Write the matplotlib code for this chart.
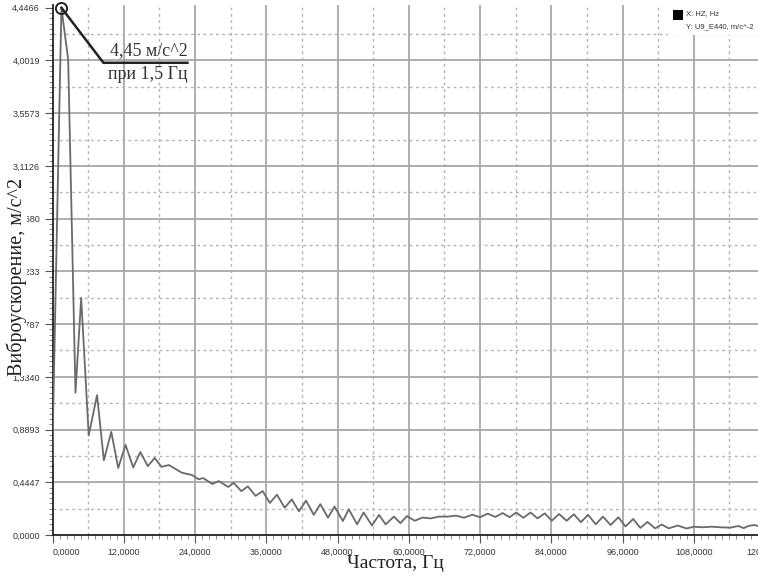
import numpy as np
from matplotlib import pyplot as plt
from matplotlib.ticker import FixedLocator, MultipleLocator
from matplotlib.patches import Rectangle

# spectrum: frequency, Hz / vibration acceleration, m/s^2
freq = [0, 0.12, 1.5, 2.64, 3.87, 4.83, 6.1, 7.5, 8.65, 9.9, 11.06, 12.3, 13.6, 14.8,
        16.05, 17.2, 18.35, 19.6, 21.8, 23.5, 24.6, 25.4, 26.9, 28.0, 29.6, 30.5, 31.8,
        32.9, 34.2, 35.4, 36.6, 37.8, 39.1, 40.3, 41.5, 42.7, 44.0, 45.1, 46.4, 47.5,
        48.9, 49.9, 51.3, 52.4, 53.8, 55.0, 56.1, 57.5, 58.6, 59.7, 61.0, 62.3, 63.7,
        65.1, 66.5, 68.0, 69.3, 70.7, 72.0, 73.3, 74.6, 75.8, 77.0, 78.1, 79.3, 80.5,
        81.7, 82.9, 84.1, 85.3, 86.6, 87.8, 89.0, 90.2, 91.5, 92.7, 94.0, 95.3, 96.5,
        97.8, 99.0, 100.2, 101.5, 102.6, 103.8, 105.3, 106.8, 108.0, 109.5, 111.0,
        112.5, 114.2, 115.5, 116.4, 117.2, 118.1, 119.5]
accel = [0.61, 1.05, 4.4466, 4.01, 1.20, 2.0, 0.84, 1.18, 0.63, 0.87, 0.565, 0.76, 0.57,
         0.70, 0.58, 0.65, 0.575, 0.59, 0.525, 0.506, 0.47, 0.48, 0.43, 0.455, 0.405,
         0.44, 0.37, 0.41, 0.33, 0.37, 0.27, 0.34, 0.23, 0.30, 0.20, 0.29, 0.17, 0.26,
         0.146, 0.24, 0.118, 0.217, 0.09, 0.19, 0.08, 0.17, 0.09, 0.155, 0.10, 0.16,
         0.12, 0.147, 0.14, 0.155, 0.155, 0.163, 0.146, 0.171, 0.15, 0.18, 0.152, 0.185,
         0.15, 0.19, 0.145, 0.19, 0.14, 0.183, 0.12, 0.177, 0.12, 0.175, 0.108, 0.17,
         0.09, 0.155, 0.084, 0.15, 0.072, 0.135, 0.06, 0.11, 0.056, 0.088, 0.056, 0.08,
         0.055, 0.07, 0.065, 0.07, 0.065, 0.062, 0.076, 0.058, 0.076, 0.084, 0.07]

x_ticks = [0, 12, 24, 36, 48, 60, 72, 84, 96, 108, 120]
x_labels = ['0,0000', '12,0000', '24,0000', '36,0000', '48,0000', '60,0000',
            '72,0000', '84,0000', '96,0000', '108,0000', '120,0000']
y_step = 0.44466
y_labels = ['0,0000', '0,4447', '0,8893', '1,3340', '1,7787', '2,2233',
            '2,6680', '3,1126', '3,5573', '4,0019', '4,4466']
peak_text = ['4,45 м/с^2', 'при 1,5 Гц']
legend_lines = ['X: HZ, Hz', 'Y: U9_E440, m/c^-2']

W, H = 758, 576
fig = plt.figure(figsize=(W / 100, H / 100), dpi=100)
ax = fig.add_axes([52.5 / W, 41 / H, 712.5 / W, 530 / H])
ax.set_xlim(0, 120)
ax.set_ylim(0, 4.47)

y_ticks = [y_step * i for i in range(len(y_labels))]

# grid: solid at major ticks, dotted half way between
for x in x_ticks[1:]:
    ax.axvline(x, color='#a8a8a8', lw=1.3, zorder=0)
for x in np.arange(6, 120, 12):
    ax.axvline(x, color='#b4b4b4', lw=1.0, ls=(0, (2, 2.5)), zorder=0)
for y in y_ticks[1:-1]:
    ax.axhline(y, color='#a8a8a8', lw=1.3, zorder=0)
for y in np.arange(y_step / 2, 4.47, y_step):
    ax.axhline(y, color='#b4b4b4', lw=1.0, ls=(0, (2, 2.5)), zorder=0)

ax.plot(freq, accel, color='#6a6a6a', lw=1.3, zorder=3)

for s in ['top', 'right']:
    ax.spines[s].set_visible(False)
ax.spines['left'].set_color('#222222')
ax.spines['bottom'].set_color('#222222')
ax.spines['left'].set_linewidth(1.3)
ax.spines['bottom'].set_linewidth(1.3)

ax.xaxis.set_major_locator(FixedLocator(x_ticks))
ax.set_xticklabels(x_labels)
ax.xaxis.set_minor_locator(MultipleLocator(1.2))
ax.yaxis.set_major_locator(FixedLocator(y_ticks))
ax.set_yticklabels(y_labels)
ax.yaxis.set_minor_locator(MultipleLocator(y_step / 10))
ax.tick_params(which='major', length=6, width=0.8, color='#555555', labelsize=6.5,
               labelcolor='#333333', pad=3)
ax.tick_params(which='minor', length=3, width=0.6, color='#777777')
for lbl in ax.get_xticklabels() + ax.get_yticklabels():
    lbl.set_family('Liberation Sans')
ax.get_xticklabels()[0].set_ha('left')

# peak marker with leader line
i_max = int(np.argmax(accel))
pf, pv = freq[i_max], accel[i_max]
ax.plot(pf, pv, 'o', mfc='none', mec='#222222', ms=8, mew=1.4, zorder=5, clip_on=False)
p = ax.transData.transform((pf, pv))
bend = ax.transData.inverted().transform(p + np.array([42, -55]))
end = ax.transData.inverted().transform(p + np.array([126, -55]))
ax.plot([pf, bend[0], end[0]], [pv, bend[1], end[1]], color='#222222', lw=1.8,
        zorder=5, clip_on=False)
ax.text(end[0], end[1] + 0.03, peak_text[0], ha='right', va='bottom',
        family='Liberation Serif', fontsize=13, color='#333333')
ax.text(end[0], end[1] - 0.03, peak_text[1], ha='right', va='top',
        family='Liberation Serif', fontsize=13, color='#333333')

# axis titles
fig.text(395 / W, 1 - 564 / H, 'Частота, Гц', ha='center', va='center',
         family='Liberation Serif', fontsize=14, color='#222222')
fig.text(17 / W, 1 - 277 / H, 'Виброускорение, м/с^2', ha='center', va='center',
         rotation=90, family='Liberation Serif', fontsize=14.5, color='#222222',
         bbox=dict(facecolor='white', edgecolor='none', pad=0), zorder=10)

# legend box in the corner
fig.patches.append(Rectangle((668 / W, 1 - 35 / H), 90 / W, 35 / H,
                             transform=fig.transFigure, facecolor='white',
                             edgecolor='none', zorder=8))
fig.patches.append(Rectangle((673 / W, 1 - 20 / H), 10 / W, 10 / H,
                             transform=fig.transFigure, facecolor='black',
                             edgecolor='none', zorder=9))
fig.text(686 / W, 1 - 14 / H, legend_lines[0], va='center', family='Liberation Sans',
         fontsize=5.5, color='#333333', zorder=9)
fig.text(686 / W, 1 - 27 / H, legend_lines[1], va='center', family='Liberation Sans',
         fontsize=5.5, color='#333333', zorder=9)

fig.savefig('out.png', dpi=100)
